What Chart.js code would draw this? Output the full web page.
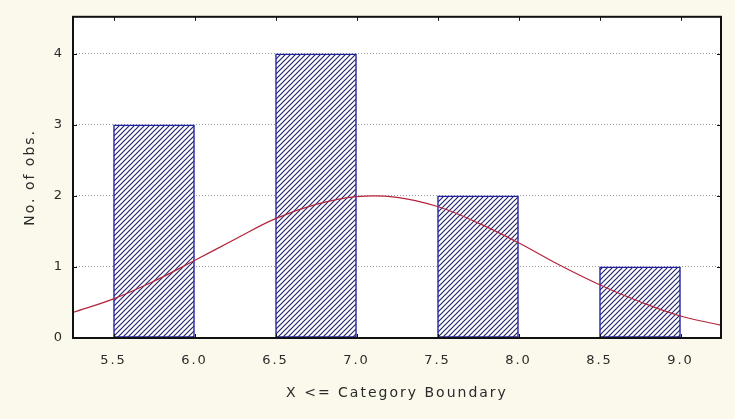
<!DOCTYPE html>
<html>
<head>
<meta charset="utf-8">
<script src="https://cdn.jsdelivr.net/npm/chart.js@4/dist/chart.umd.min.js"></script>
<style>
  html,body{margin:0;padding:0;background:#fbf8ec;}
  #wrap{width:735px;height:419px;}
</style>
</head>
<body>
<div id="wrap"><canvas id="histChart" width="735" height="419"></canvas></div>
<script>
// histogram bins (centre of each 0.5 wide class) and counts
const binCenters = [5.75, 6.75, 7.75, 8.75];
const counts = [3, 4, 2, 1];

// fitted normal curve
const curveX = [5.25, 5.5, 5.75, 6.0, 6.25, 6.5, 6.75, 7.0, 7.25, 7.5, 7.75, 8.0, 8.25, 8.5, 8.75, 9.0, 9.25];
const curveY = [0.36, 0.55, 0.80, 1.09, 1.39, 1.68, 1.88, 1.99, 1.98, 1.85, 1.62, 1.34, 1.03, 0.75, 0.51, 0.31, 0.18];

const xTicks = [5.5, 6.0, 6.5, 7.0, 7.5, 8.0, 8.5, 9.0];
const yTicks = [0, 1, 2, 3, 4];

const FONT = "DejaVu Sans, Verdana, sans-serif";

function hatch(){
    const s = 5;
    const c = document.createElement("canvas");
    c.width = s; c.height = s;
    const g = c.getContext("2d");
    g.fillStyle = "#ffffff";
    g.fillRect(0,0,s,s);
    g.strokeStyle = "#26266e";
    g.lineWidth = 1.2;
    g.beginPath();
    g.moveTo(-1,s+1); g.lineTo(s+1,-1);
    g.moveTo(-1,1); g.lineTo(1,-1);
    g.moveTo(s-1,s+1); g.lineTo(s+1,s-1);
    g.stroke();
    return g.createPattern(c,"repeat");
}

// white plot area, black frame and little inward ticks
const frame = {
    id:"frame",
    beforeUpdate(chart){ chart.ctx.letterSpacing = "2px"; },
    beforeDraw(chart){
        const {ctx, chartArea:a} = chart;
        ctx.letterSpacing = "2px";
        ctx.save();
        ctx.fillStyle = "#ffffff";
        ctx.fillRect(a.left,a.top,a.right-a.left,a.bottom-a.top);
        ctx.restore();
    },
    afterDatasetsDraw(chart){
        const {ctx, chartArea:a, scales} = chart;
        ctx.save();
        ctx.strokeStyle = "#111";
        ctx.lineWidth = 1;
        ctx.beginPath();
        xTicks.forEach(v=>{
            const px = Math.round(scales.x.getPixelForValue(v))+0.5;
            ctx.moveTo(px,a.bottom); ctx.lineTo(px,a.bottom-4);
            ctx.moveTo(px,a.top); ctx.lineTo(px,a.top+4);
        });
        yTicks.forEach(v=>{
            const py = Math.round(scales.y.getPixelForValue(v))+0.5;
            ctx.moveTo(a.left,py); ctx.lineTo(a.left+4,py);
            ctx.moveTo(a.right,py); ctx.lineTo(a.right-4,py);
        });
        ctx.stroke();
        ctx.lineWidth = 2;
        ctx.strokeRect(a.left,a.top,a.right-a.left,a.bottom-a.top);
        ctx.restore();
    }
};

const ctx = document.getElementById("histChart");
const chart = new Chart(ctx,{
    type:"bar",
    data:{
        datasets:[
            {
                type:"line",
                data:curveX.map((x,i)=>({x:x,y:curveY[i]})),
                borderColor:"#b3243c",
                borderWidth:1.2,
                pointRadius:0,
                tension:0.4,
                order:0
            },
            {
                type:"bar",
                data:binCenters.map((x,i)=>({x:x,y:counts[i]})),
                backgroundColor:hatch(),
                borderColor:"#1f1fa0",
                borderWidth:1.5,
                borderSkipped:false,
                barPercentage:1,
                categoryPercentage:1,
                order:1
            }
        ]
    },
    options:{
        responsive:false,
        animation:false,
        layout:{padding:{left:0,right:14,top:14,bottom:0}},
        plugins:{legend:{display:false},tooltip:{enabled:false}},
        scales:{
            x:{
                type:"linear",
                offset:false,
                min:5.25, max:9.25,
                afterBuildTicks:s=>{ s.ticks = xTicks.map(v=>({value:v})); },
                afterFit:s=>{ s.height = 81; },
                grid:{display:false, drawTicks:false},
                border:{display:false},
                ticks:{
                    padding:15,
                    color:"#2a2a2a",
                    font:{family:FONT, size:13},
                    callback:v=>v.toFixed(1)
                },
                title:{
                    display:true,
                    text:"X <= Category Boundary",
                    color:"#2a2a2a",
                    font:{family:FONT, size:14},
                    padding:{top:0,bottom:17}
                }
            },
            y:{
                min:0, max:4.52,
                afterBuildTicks:s=>{ s.ticks = yTicks.map(v=>({value:v})); },
                afterFit:s=>{ s.width = 73; },
                grid:{
                    drawTicks:false,
                    color:c=>c.tick.value===0?"rgba(0,0,0,0)":"#9a9a9a",
                    lineWidth:1
                },
                border:{display:false, dash:[1,2]},
                ticks:{
                    padding:9,
                    color:"#2a2a2a",
                    font:{family:FONT, size:13}
                },
                title:{
                    display:true,
                    text:"No. of obs.",
                    color:"#2a2a2a",
                    font:{family:FONT, size:14},
                    padding:{top:22,bottom:0}
                }
            }
        }
    },
    plugins:[frame]
});
</script>
</body>
</html>
